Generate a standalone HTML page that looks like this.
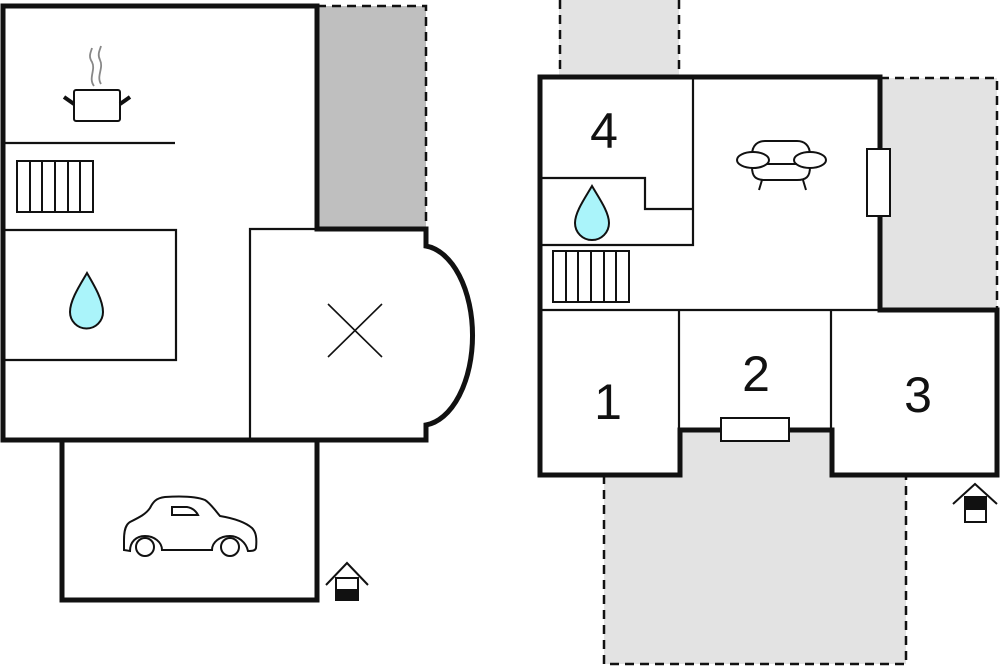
<!DOCTYPE html>
<html><head><meta charset="utf-8"><style>
html,body{margin:0;padding:0;background:#fff;}
svg{display:block;}
text{font-family:"Liberation Sans",sans-serif;fill:#111;}
</style></head><body>
<svg width="1000" height="666" viewBox="0 0 1000 666" xmlns="http://www.w3.org/2000/svg" fill="none" stroke="#111" stroke-linecap="butt">
<!-- LEFT PLAN -->
<rect x="317" y="6" width="109" height="223" fill="#bfbfbf" stroke="none"/>
<path d="M317 6 H426 V229" stroke-width="2.5" stroke-dasharray="9,6"/>
<!-- garage -->
<rect x="62" y="440" width="255" height="160" fill="#fff" stroke-width="5"/>
<!-- main outline -->
<path d="M3 6 H317 V229 H426 V246 A52 90 0 0 1 426 425 V440 H3 Z" fill="#fff" stroke-width="5" stroke-linejoin="miter"/>
<g stroke-width="2.2">
<path d="M3 143 H175"/>
<path d="M3 230 H176 V360 H3"/>
<path d="M250 440 V229 H317"/>
<path d="M62 440 H317"/>
</g>
<!-- radiator left -->
<g stroke-width="2">
<rect x="17" y="161" width="76" height="51"/>
<path d="M30 161V212M42 161V212M55 161V212M68 161V212M80 161V212"/>
</g>
<!-- pot -->
<g stroke-width="2">
<rect x="74" y="90" width="46" height="31" rx="2"/>
<path d="M64 97 L74 104 M130 97 L120 104" stroke-width="4"/>
<path d="M94 86 C88 78 96 70 92 62 C88 56 91 52 92 48 M101 84 C96 76 104 68 100 60 C97 54 100 50 101 46" stroke="#888" stroke-width="1.8"/>
</g>
<!-- drop left -->
<path d="M87 273 C80 285 70 300 70 312 A16.5 16.5 0 0 0 103 312 C103 300 94 285 87 273 Z" fill="#aaf4fa" stroke-width="2"/>
<!-- X -->
<path d="M328 304 L382 357 M382 304 L328 357" stroke-width="1.6"/>
<!-- car -->
<g stroke-width="2">
<path d="M124 550 V540 C124 532 125 525 130 522 C140 517 146 514 150 508 C153 502 156 498 165 497 C180 496 195 496 205 500 C210 503 215 510 220 516 C232 518 245 522 252 528 C256 532 257 538 256 548 C255 551 252 551 248 551 C246 542 238 536 230 536 C220 536 212 542 212 550 H162 C162 542 154 536 145 536 C136 536 130 542 130 551 Z"/>
<path d="M172 507 H187 C193 508 196 511 198 515 H172 Z"/>
<circle cx="145" cy="547" r="9"/>
<circle cx="230" cy="547" r="9"/>
</g>
<!-- entry left -->
<g stroke-width="2">
<path d="M326 585 L347 563 L368 585"/>
<rect x="336" y="578" width="22" height="22" fill="#fff"/>
<rect x="336" y="590" width="22" height="10" fill="#111"/>
</g>

<!-- RIGHT PLAN -->
<rect x="559" y="0" width="120" height="77" fill="#e3e3e3" stroke="none"/>
<path d="M560 0 V77 M679 0 V77" stroke-width="2.5" stroke-dasharray="9,6"/>
<rect x="880" y="78" width="117" height="232" fill="#e3e3e3" stroke="none"/>
<path d="M880 78 H997 V310" stroke-width="2.5" stroke-dasharray="9,6"/>
<rect x="604" y="475" width="302" height="189" fill="#e3e3e3" stroke="none"/>
<rect x="680" y="430" width="152" height="45" fill="#e3e3e3" stroke="none"/>
<path d="M604 475 V664 H906 V475" stroke-width="2.5" stroke-dasharray="9,6"/>
<path d="M540 77 H880 V310 H997 V475 H832 V430 H680 V475 H540 Z" fill="none" stroke-width="5" stroke-linejoin="miter"/>
<rect x="540" y="77" width="340" height="233" fill="#fff" stroke="none"/>
<rect x="540" y="310" width="140" height="165" fill="#fff" stroke="none"/>
<rect x="680" y="310" width="152" height="120" fill="#fff" stroke="none"/>
<rect x="832" y="310" width="165" height="165" fill="#fff" stroke="none"/>
<path d="M540 77 H880 V310 H997 V475 H832 V430 H680 V475 H540 Z" stroke-width="5" stroke-linejoin="miter"/>
<g stroke-width="2.2">
<path d="M693 77 V245 H540"/>
<path d="M540 178 H645 V209 H693"/>
<path d="M540 310 H880"/>
<path d="M679 310 V430 M831 310 V430"/>
</g>
<!-- radiator right -->
<g stroke-width="2">
<rect x="553" y="251" width="76" height="51"/>
<path d="M566 251V302M578 251V302M591 251V302M604 251V302M616 251V302"/>
</g>
<!-- drop right -->
<path d="M592 186 C585 198 575 212 575 223 A17 17 0 0 0 609 223 C609 212 599 198 592 186 Z" fill="#aaf4fa" stroke-width="2"/>
<!-- windows -->
<rect x="867" y="149" width="23" height="67" fill="#fff" stroke-width="2"/>
<rect x="721" y="418" width="68" height="23" fill="#fff" stroke-width="2"/>
<!-- sofa -->
<g stroke-width="2">
<path d="M752 155 C752 145 758 141 765 141 H797 C804 141 810 145 810 155"/>
<ellipse cx="753" cy="160" rx="16" ry="8" fill="#fff"/>
<ellipse cx="810" cy="160" rx="16" ry="8" fill="#fff"/>
<path d="M767 164 H797"/>
<path d="M752 167 C752 177 756 180 765 180 H797 C806 180 810 177 810 167"/>
<path d="M762 180 L759 190 M803 180 L806 190"/>
</g>
<!-- entry right -->
<g stroke-width="2">
<path d="M953 504 L975 484 L997 504"/>
<rect x="965" y="497" width="21" height="25" fill="#fff"/>
<rect x="965" y="497" width="21" height="12" fill="#111"/>
</g>
<!-- numbers -->
<g stroke="none" font-size="50">
<text x="604" y="148" text-anchor="middle">4</text>
<text x="608" y="419" text-anchor="middle">1</text>
<text x="756" y="391" text-anchor="middle">2</text>
<text x="918" y="412" text-anchor="middle">3</text>
</g>
</svg>
</body></html>
